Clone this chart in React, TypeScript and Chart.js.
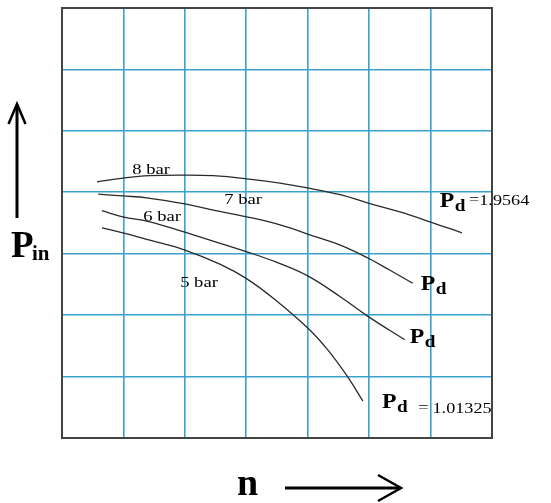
import React, { useEffect, useRef } from "react";
import { Chart, registerables } from "chart.js";

Chart.register(...registerables);

// Speed n (grid units) and inlet pressure Pin (grid units) for each discharge pressure curve
const n8 = [0.57, 0.99, 1.43, 2.0, 2.46, 3.01, 3.55, 4.0, 4.53, 5.0, 5.5, 5.99, 6.51];
const p8 = [4.17, 4.23, 4.27, 4.28, 4.27, 4.22, 4.15, 4.07, 3.96, 3.82, 3.68, 3.52, 3.34];

const n7 = [0.59, 0.99, 1.38, 2.0, 2.46, 3.01, 3.55, 4.0, 4.53, 4.98, 5.34, 5.71];
const p7 = [3.97, 3.94, 3.91, 3.81, 3.71, 3.6, 3.47, 3.32, 3.14, 2.93, 2.73, 2.52];

const n6 = [0.65, 0.99, 1.43, 2.0, 2.51, 3.01, 3.47, 4.0, 4.53, 4.98, 5.58];
const p6 = [3.7, 3.6, 3.52, 3.35, 3.19, 3.03, 2.87, 2.64, 2.3, 1.98, 1.6];

const n5 = [0.65, 0.99, 1.43, 2.0, 2.57, 3.01, 3.47, 4.0, 4.33, 4.64, 4.9];
const p5 = [3.42, 3.34, 3.22, 3.06, 2.83, 2.59, 2.25, 1.79, 1.43, 1.01, 0.6];

const barLabels = ["8 bar", "7 bar", "6 bar", "5 bar"];
const barLabelN = [1.45, 2.95, 1.63, 2.23];
const barLabelP = [4.36, 3.87, 3.6, 2.52];

const pdValues = ["1.9564", "", "", "1.01325"];
const pdLabelN = [6.15, 5.84, 5.66, 5.21];
const pdLabelP = [3.76, 2.41, 1.55, 0.49];

const GRID = "#3aa2cc";
const INK = "#000";
const SERIF = "'Liberation Serif', 'Times New Roman', serif";

function pts(xs: number[], ys: number[]) {
  return xs.map((x, i) => ({ x, y: ys[i] }));
}

function drawRun(ctx: CanvasRenderingContext2D, text: string, x: number, y: number, font: string, sx: number) {
  ctx.save();
  ctx.font = font;
  ctx.translate(x, y);
  ctx.scale(sx, 1);
  ctx.fillText(text, 0, 0);
  const w = ctx.measureText(text).width * sx;
  ctx.restore();
  return w;
}

const annotations = {
  id: "annotations",
  afterDraw(chart: any) {
    const ctx: CanvasRenderingContext2D = chart.ctx;
    const { chartArea, scales } = chart;
    const xs = scales.x;
    const ys = scales.y;
    ctx.save();
    // frame
    ctx.strokeStyle = "#444";
    ctx.lineWidth = 2;
    ctx.strokeRect(chartArea.left, chartArea.top, chartArea.right - chartArea.left, chartArea.bottom - chartArea.top);

    ctx.fillStyle = INK;
    ctx.textBaseline = "middle";
    ctx.textAlign = "left";
    // bar labels
    barLabels.forEach((t, i) => {
      const px = xs.getPixelForValue(barLabelN[i]);
      const py = ys.getPixelForValue(barLabelP[i]);
      ctx.font = `15px ${SERIF}`;
      const w = ctx.measureText(t).width * 1.24;
      drawRun(ctx, t, px - w / 2, py, `15px ${SERIF}`, 1.24);
    });

    // Pd labels
    ctx.textBaseline = "alphabetic";
    const gaps = [3, 0, 0, 10];
    const postGaps = [1, 0, 0, 5];
    const numDy = [-2, 0, 0, 5];
    pdValues.forEach((v, i) => {
      let x = xs.getPixelForValue(pdLabelN[i]);
      const y = ys.getPixelForValue(pdLabelP[i]);
      x += drawRun(ctx, "P", x, y, `bold 22px ${SERIF}`, 1.08);
      x += drawRun(ctx, "d", x + 0.5, y + 4, `bold 16px ${SERIF}`, 1.2);
      if (v) {
        x += gaps[i];
        x += drawRun(ctx, "=", x + 1, y + numDy[i] - 1, `14px ${SERIF}`, 1.3);
        drawRun(ctx, v, x + postGaps[i], y + numDy[i], `14px ${SERIF}`, 1.3);
      }
    });

    // axis names
    drawRun(ctx, "P", 11, 257, `bold 37px ${SERIF}`, 1);
    drawRun(ctx, "in", 32, 260, `bold 21px ${SERIF}`, 1);
    drawRun(ctx, "n", 237, 495, `bold 38px ${SERIF}`, 1);

    // arrows
    ctx.strokeStyle = "#000";
    ctx.lineWidth = 3;
    ctx.lineCap = "butt";
    ctx.beginPath();
    ctx.moveTo(17, 218);
    ctx.lineTo(17, 105);
    ctx.stroke();
    ctx.lineWidth = 2.5;
    ctx.beginPath();
    ctx.moveTo(8.5, 124);
    ctx.lineTo(17, 104);
    ctx.lineTo(25.5, 124);
    ctx.stroke();

    ctx.lineWidth = 3;
    ctx.beginPath();
    ctx.moveTo(285, 488);
    ctx.lineTo(399, 488);
    ctx.stroke();
    ctx.lineWidth = 2.5;
    ctx.beginPath();
    ctx.moveTo(378, 475);
    ctx.lineTo(401, 488);
    ctx.lineTo(378, 501);
    ctx.stroke();
    ctx.restore();
  },
};

export default function App() {
  const ref = useRef<HTMLCanvasElement | null>(null);
  useEffect(() => {
    if (!ref.current) return;
    const lineStyle = {
      borderColor: "#2a2a2a",
      borderWidth: 1.3,
      pointRadius: 0,
      tension: 0.4,
      fill: false,
    };
    const chart = new Chart(ref.current, {
      type: "line",
      data: {
        datasets: [
          { label: "8 bar", data: pts(n8, p8), ...lineStyle },
          { label: "7 bar", data: pts(n7, p7), ...lineStyle },
          { label: "6 bar", data: pts(n6, p6), ...lineStyle },
          { label: "5 bar", data: pts(n5, p5), ...lineStyle },
        ],
      },
      options: {
        responsive: false,
        animation: false,
        layout: { padding: { left: 62, top: 8, right: 59, bottom: 65 } },
        plugins: { legend: { display: false }, tooltip: { enabled: false } },
        scales: {
          x: {
            type: "linear",
            min: 0,
            max: 7,
            ticks: { display: false, stepSize: 1 },
            grid: { color: GRID, lineWidth: 1.6, drawTicks: false },
            border: { display: false },
          },
          y: {
            type: "linear",
            min: 0,
            max: 7,
            ticks: { display: false, stepSize: 1 },
            grid: { color: GRID, lineWidth: 1.6, drawTicks: false },
            border: { display: false },
          },
        },
      },
      plugins: [annotations],
    });
    return () => chart.destroy();
  }, []);
  return (
    <div style={{ position: "absolute", left: 0, top: 0, width: 551, height: 503, background: "#fff" }}>
      <canvas ref={ref} width={551} height={503} style={{ display: "block" }} />
    </div>
  );
}
